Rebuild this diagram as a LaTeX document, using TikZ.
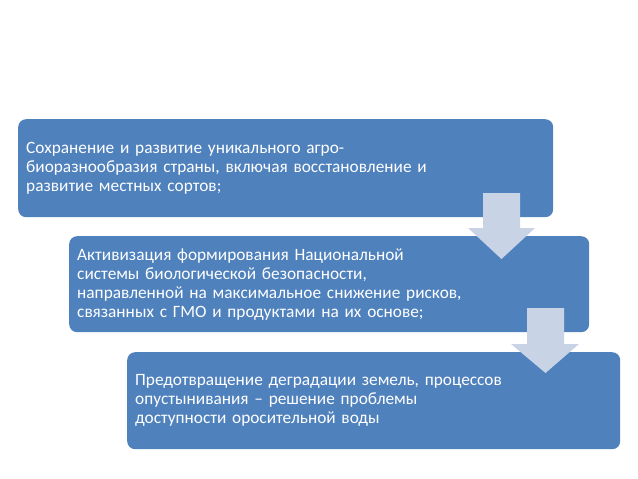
\documentclass[tikz,border=0pt]{standalone}
\usepackage{fontspec}
\setmainfont{Carlito}
\definecolor{boxblue}{HTML}{4F81BD}
\definecolor{arrowfill}{HTML}{C9D3E6}
\begin{document}
\begin{tikzpicture}[x=1pt,y=-1pt,
  stagebox/.style={draw=none,fill=boxblue,rounded corners=8pt,anchor=north west,
    text=white,align=left,inner xsep=8pt,inner ysep=0pt,
    font=\fontsize{17.3}{19}\selectfont},
  blockarrow/.style={fill=arrowfill,draw=none}]
\useasboundingbox (0,0) rectangle (638,479);
\fill[white] (0,0) rectangle (638,479);
\node[stagebox,text width=519pt,minimum height=98pt] (b1) at (18,119)
  {Сохранение и развитие уникального агро-\\биоразнообразия страны, включая восстановление и\\развитие местных сортов;};
\node[stagebox,text width=504pt,minimum height=96pt] (b2) at (69,236)
  {Активизация формирования Национальной\\системы биологической безопасности,\\направленной на максимальное снижение рисков,\\связанных с ГМО и продуктами на их основе;};
\node[stagebox,text width=477pt,minimum height=97pt] (b3) at (127,352)
  {Предотвращение деградации земель, процессов\\опустынивания – решение проблемы\\доступности оросительной воды};
\fill[blockarrow] (483,193) -- (520,193) -- (520,228) -- (535,228) -- (501.5,259) -- (468,228) -- (483,228) -- cycle;
\fill[blockarrow] (527,308) -- (564,308) -- (564,344) -- (579,344) -- (545.5,373) -- (511,344) -- (527,344) -- cycle;
\end{tikzpicture}
\end{document}
